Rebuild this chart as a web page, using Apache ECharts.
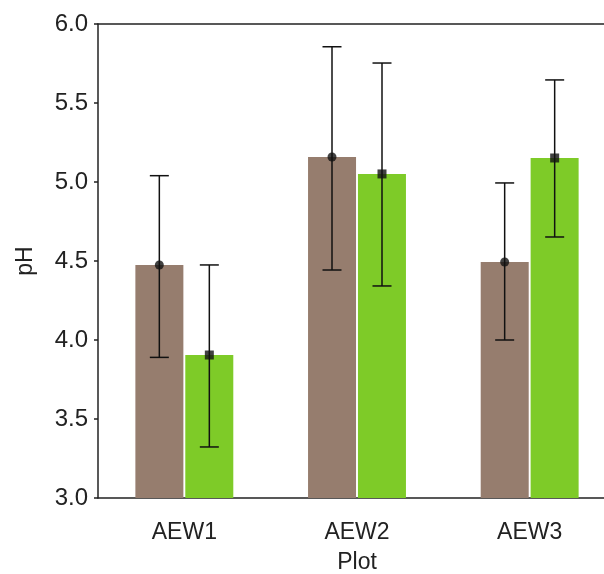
<!DOCTYPE html>
<html><head><meta charset="utf-8">
<script src="https://cdn.jsdelivr.net/npm/echarts@6/dist/echarts.min.js"></script>
<style>html,body{margin:0;padding:0;background:#fff}#c{width:604px;height:574px}</style>
</head><body><div id="c"></div>
<script>
const categories = ['AEW1', 'AEW2', 'AEW3'];
const brownMean = [4.475, 5.158, 4.494];
const brownHigh = [5.04, 5.856, 4.994];
const brownLow  = [3.89, 4.443, 4.0];
const greenMean = [3.905, 5.051, 5.152];
const greenHigh = [4.475, 5.753, 5.646];
const greenLow  = [3.323, 4.342, 4.652];
const yTicks = [3.0, 3.5, 4.0, 4.5, 5.0, 5.5, 6.0];

const BROWN = '#967d6e', GREEN = '#7ecb28';
const BAR_W = 48, OFF = 25, CAP = 9.5;
const font = 'Liberation Sans, Arial, sans-serif';

function errSeries(low, high, mean, off, symbol, size) {
  return [{
    type: 'custom',
    z: 5,
    data: categories.map((c, i) => [i, low[i], high[i]]),
    renderItem: function (params, api) {
      const lo = api.coord([api.value(0), api.value(1)]);
      const hi = api.coord([api.value(0), api.value(2)]);
      const x = lo[0] + off;
      const st = { stroke: '#111', lineWidth: 1.5 };
      return { type: 'group', children: [
        { type: 'line', shape: { x1: x, y1: lo[1], x2: x, y2: hi[1] }, style: st },
        { type: 'line', shape: { x1: x - CAP, y1: lo[1], x2: x + CAP, y2: lo[1] }, style: st },
        { type: 'line', shape: { x1: x - CAP, y1: hi[1], x2: x + CAP, y2: hi[1] }, style: st }
      ]};
    }
  }, {
    type: 'scatter',
    z: 6,
    symbol: symbol,
    symbolSize: size,
    symbolOffset: [off, 0],
    itemStyle: { color: '#111' },
    data: mean.map((v, i) => [i, v])
  }];
}

const chart = echarts.init(document.getElementById('c'));
chart.setOption({
  animation: false,
  grid: { left: 98, top: 24, width: 518, height: 474, show: false, outerBoundsMode: 'none', containLabel: false },
  xAxis: [{
    type: 'category', data: categories,
    name: 'Plot', nameLocation: 'middle', nameGap: 53,
    nameTextStyle: { fontFamily: font, fontSize: 23, color: '#222' },
    axisLine: { lineStyle: { color: '#222', width: 1.5 } },
    axisTick: { show: false },
    axisLabel: { fontFamily: font, fontSize: 23, color: '#222', margin: 23 }
  }, {
    type: 'category', data: categories, position: 'top',
    axisLine: { show: true, lineStyle: { color: '#222', width: 1.5 } },
    axisTick: { show: false }, axisLabel: { show: false }
  }],
  yAxis: {
    type: 'value', min: 3, max: 6, interval: 0.5,
    name: 'pH', nameLocation: 'middle', nameGap: 61,
    nameTextStyle: { fontFamily: font, fontSize: 23, color: '#222' },
    axisLine: { show: true, lineStyle: { color: '#222', width: 1.5 } },
    axisTick: { show: true, length: 4, lineStyle: { color: '#222', width: 1.5 } },
    splitLine: { show: false },
    axisLabel: { fontFamily: font, fontSize: 24, color: '#222', margin: 10,
      formatter: v => v.toFixed(1) }
  },
  series: [
    { type: 'bar', data: brownMean, barWidth: BAR_W, barGap: '4%', itemStyle: { color: BROWN } },
    { type: 'bar', data: greenMean, barWidth: BAR_W, barGap: '4%', itemStyle: { color: GREEN } },
    ...errSeries(brownLow, brownHigh, brownMean, -OFF, 'circle', 9),
    ...errSeries(greenLow, greenHigh, greenMean, OFF, 'rect', 9)
  ]
});
</script></body></html>
